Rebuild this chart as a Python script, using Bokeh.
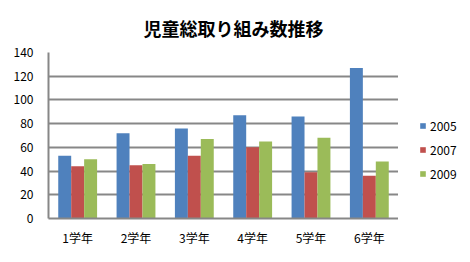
from bokeh.plotting import figure
from bokeh.models import FactorRange, Legend, LegendItem, Title, SingleIntervalTicker, ColumnDataSource
from bokeh.layouts import row
from bokeh.transform import dodge
from bokeh.embed import file_html
from bokeh.resources import INLINE

categories = ["1学年", "2学年", "3学年", "4学年", "5学年", "6学年"]
years = ["2005", "2007", "2009"]
v2005 = [53, 72, 76, 87, 86, 127]
v2007 = [44, 45, 53, 60, 39, 36]
v2009 = [50, 46, 67, 65, 68, 48]
colors = ["#4F81BD", "#C0504D", "#9BBB59"]

src = ColumnDataSource(dict(cat=categories, y2005=v2005, y2007=v2007, y2009=v2009))

FONT = "Noto Sans CJK JP"
GRID = "#878787"

p = figure(width=398, height=262, x_range=FactorRange(*categories), y_range=(0, 140),
           output_backend="svg", toolbar_location=None,
           min_border_left=48, min_border_right=0, min_border_top=52, min_border_bottom=44)
p.outline_line_color = None

bw = 0.222
for i, (yr, col) in enumerate(zip(years, colors)):
    p.vbar(x=dodge("cat", (i - 1) * bw, range=p.x_range), top="y" + yr, width=bw,
           source=src, fill_color=col, line_color=None)

p.xgrid.grid_line_color = None
p.ygrid.grid_line_color = GRID
p.ygrid.grid_line_width = 2
p.yaxis.ticker = SingleIntervalTicker(interval=20)

for ax in (p.xaxis, p.yaxis):
    ax.axis_line_color = GRID
    ax.axis_line_width = 2
    ax.major_tick_line_color = None
    ax.minor_tick_line_color = None
    ax.major_label_text_font = FONT
    ax.major_label_text_font_size = "12px"
    ax.major_label_text_color = "black"
p.yaxis.major_label_standoff = 9
p.xaxis.major_label_standoff = 4

p.add_layout(Title(text="児童総取り組み数推移", align="left", offset=95, text_font=FONT,
                   text_font_size="18px", text_font_style="bold", text_color="black",
                   standoff=24), "above")

# legend panel
lg = figure(width=72, height=262, output_backend="svg", toolbar_location=None,
            x_range=(0, 1), y_range=(0, 1),
            min_border_left=0, min_border_right=0, min_border_top=0, min_border_bottom=0,
            x_axis_type=None, y_axis_type=None)
lg.outline_line_color = None
lg.xgrid.grid_line_color = None
lg.ygrid.grid_line_color = None
lsrc = ColumnDataSource(dict(x=[0], y=[0]))
rs = [lg.vbar(x="x", top="y", width=0, source=lsrc, fill_color=c, line_color=None)
      for c in colors]
legend = Legend(items=[LegendItem(label=yr, renderers=[r]) for yr, r in zip(years, rs)],
                location=(21, 35), glyph_width=7, glyph_height=7, label_height=20,
                label_text_font=FONT, label_text_font_size="12px", label_text_color="black",
                spacing=4, padding=0, margin=0, border_line_color=None,
                background_fill_alpha=0, label_standoff=4)
lg.add_layout(legend, "center")

layout = row(p, lg)
open("out.html", "w").write(file_html(layout, INLINE))
